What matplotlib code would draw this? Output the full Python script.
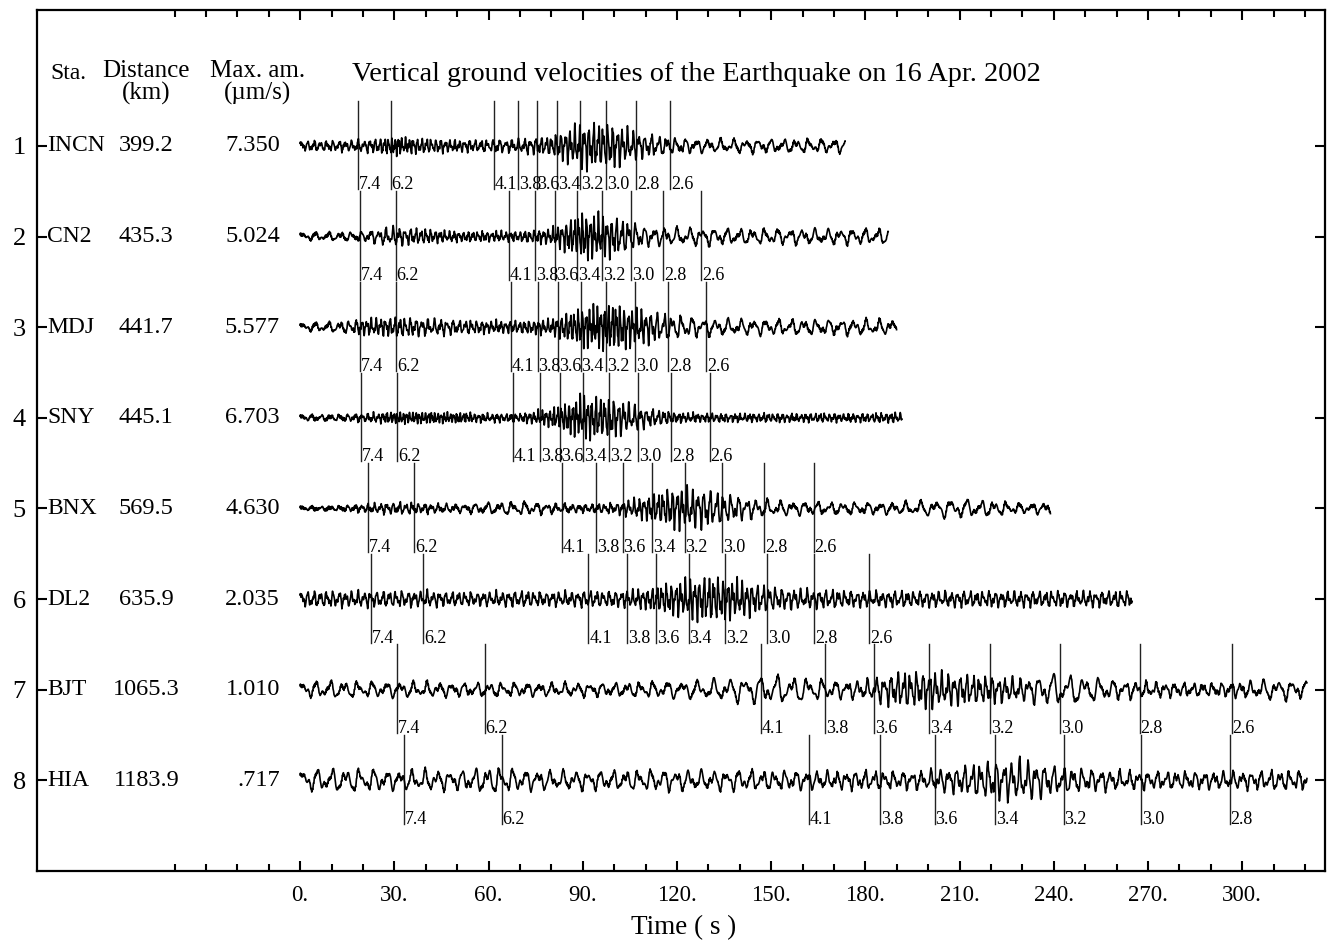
import numpy as np
import matplotlib
matplotlib.use("Agg")
import matplotlib.pyplot as plt

plt.rcParams["font.family"] = ["Liberation Serif", "DejaVu Serif"]

# station table
stations = ["INCN", "CN2", "MDJ", "SNY", "BNX", "DL2", "BJT", "HIA"]
distances = [399.2, 435.3, 441.7, 445.1, 569.5, 635.9, 1065.3, 1183.9]
max_amp = ["7.350", "5.024", "5.577", "6.703", "4.630", "2.035", "1.010", ".717"]

# record length (s) and origin-to-record-start delay (s)
trace_end = [173.6, 187.3, 190.0, 191.7, 239.0, 265.0, 320.7, 320.7]
start_delay = [35.6, 39.8, 40.6, 40.8, 55.5, 63.3, 113.1, 126.8]

# group velocities (km/s) of the marker lines
velocities = [7.4, 6.2, 4.1, 3.8, 3.6, 3.4, 3.2, 3.0, 2.8, 2.6]

# wiggle envelope (pixels of half amplitude) and dominant period (s), every 10 s
envelopes = [
    [5, 5, 6, 9, 7, 6, 6, 7, 10, 24, 22, 12, 8, 7, 7, 7, 7, 7],
    [4, 4, 5, 10, 7, 5, 5, 5, 8, 24, 20, 10, 9, 9, 8, 8, 8, 8, 8],
    [4, 5, 8, 10, 9, 7, 6, 6, 8, 20, 24, 17, 12, 9, 8, 8, 8, 8, 8, 8],
    [3, 3, 4, 6, 6, 5, 4, 4, 9, 22, 20, 10, 5, 4, 4, 4, 4, 4, 4, 5],
    [2, 2, 4, 6, 5, 4, 6, 7, 5, 4, 5, 12, 22, 20, 12, 8, 7, 6, 6, 6, 8, 10, 8, 5, 6],
    [8, 8, 8, 8, 8, 7, 7, 8, 7, 8, 8, 10, 18, 24, 19, 12, 10, 9, 8, 8, 8, 8, 8, 8,
     8, 8, 8],
    [8, 9, 8, 8, 8, 7, 7, 7, 7, 7, 7, 8, 9, 10, 13, 15, 13, 9, 10, 18, 19, 16, 14,
     12, 17, 14, 10, 8, 7, 7, 8, 11, 9],
    [11, 12, 12, 10, 11, 10, 14, 11, 10, 10, 10, 11, 11, 10, 11, 10, 10, 9, 10, 9,
     10, 14, 20, 22, 15, 12, 10, 9, 9, 9, 9, 10, 10],
]
periods = [
    [2, 2, 2, 1, 1.5, 1.5, 2, 2, 1.5, 1.5, 1.5, 2, 3, 4, 4, 4, 4, 4],
    [4, 4, 3, 2, 1.5, 1.5, 1.5, 1.5, 1.5, 1.2, 1.5, 3, 4, 4, 4, 4, 4, 4, 4],
    [4, 4, 1.5, 1.5, 2, 2, 1.5, 1.5, 1.5, 1.2, 1.2, 1.5, 3, 4, 4, 4, 4, 4, 4, 4],
    [3, 3, 2, 1, 1, 1, 1.5, 1.5, 1.2, 1.2, 1.5, 2, 1.5, 1.5, 1.5, 1.5, 1.5, 1.5,
     1.5, 1.5],
    [3, 3, 2, 2, 2, 3, 4, 4, 3, 2, 2, 1.5, 1.5, 2, 2.5, 4, 4, 4, 4, 4, 5, 5, 4, 4, 4],
    [2, 2, 2, 2, 2, 2, 2, 2, 2, 2, 2, 1.5, 1.5, 1.5, 1.5, 2, 2, 2, 2, 2, 2, 2, 2, 2,
     2, 2, 2],
    [4, 4.5, 4.5, 4.5, 4, 4, 4, 4, 4, 4, 4, 4, 5, 5, 5, 5, 5, 4, 3, 2, 2, 2, 2, 2.5,
     5, 5, 4, 3, 3, 3, 3, 5, 4],
    [4.5, 4.5, 4.5, 4, 4, 4, 4, 4, 4, 4, 4, 4, 4, 4, 4, 3.5, 3.5, 3, 3, 3, 3, 2.5,
     2.5, 2.5, 3, 3, 3, 3, 3, 3, 3, 3, 3],
]

PX = 90.4  # pixels per trace spacing

fig = plt.figure(figsize=(13.27, 9.41), dpi=100)
ax = fig.add_axes([37 / 1327, 70 / 941, 1288 / 1327, 861 / 941])

for i, name in enumerate(stations):
    row = i + 1
    t = np.arange(0, trace_end[i], 0.05)
    grid = np.arange(len(envelopes[i])) * 10.0
    env = np.interp(t, grid, envelopes[i]) / PX
    per = np.interp(t, grid, periods[i])
    phi = 2 * np.pi * np.cumsum(0.05 / per)
    wig = (0.6 * np.sin(phi) + 0.3 * np.sin(1.73 * phi + 1.0)
           + 0.22 * np.sin(2.91 * phi + 2.0))
    wig = env * wig + 0.016 * np.sin(2 * np.pi * t / 0.33) * np.cos(0.7 * t)
    ax.plot(t, row - wig, color="black", lw=1.2, zorder=3)

    # group velocity markers
    for v in velocities:
        tm = distances[i] / v - start_delay[i]
        if tm > trace_end[i]:
            continue
        ax.plot([tm, tm], [row - 0.5, row + 0.48], color="#222222", lw=1.0, zorder=2)
        ax.text(tm + 0.3, row + 0.48, f"{v:.1f}", fontsize=13, ha="left",
                va="baseline")

    ax.text(-80.5, row, name, fontsize=17, ha="left", va="center")
    ax.text(-49.0, row, f"{distances[i]:.1f}", fontsize=17.5, ha="center",
            va="center")
    ax.text(-6.4, row, max_amp[i], fontsize=17.5, ha="right", va="center")

# header
ax.text(-79.6, 0.2, "Sta.", fontsize=17, ha="left", va="center")
ax.text(-49.0, 0.17, "Distance", fontsize=18, ha="center", va="center")
ax.text(-49.0, 0.42, "(km)", fontsize=18, ha="center", va="center")
ax.text(-13.5, 0.17, "Max. am.", fontsize=18, ha="center", va="center")
ax.text(-13.5, 0.42, "(\u00b5m/s)", fontsize=18, ha="center", va="center")
ax.text(16.6, 0.21, "Vertical ground velocities of the Earthquake on 16 Apr. 2002",
        fontsize=20.3, ha="left", va="center")

ax.set_xlim(-83.8, 326.4)
ax.set_ylim(9.0, -0.5)

major = np.arange(0, 301, 30)
ax.set_xticks(major)
ax.set_xticklabels([f"{int(x)}." for x in major], fontsize=16.5)
ax.set_xticks(np.arange(-40, 321, 10), minor=True)
ax.set_yticks(np.arange(1, 9))
ax.set_yticklabels([str(k) for k in range(1, 9)], fontsize=19)
ax.tick_params(which="both", direction="in", top=True, right=True, width=1.5)
ax.tick_params(which="major", length=7)
ax.tick_params(which="minor", length=5)
ax.tick_params(axis="x", pad=10)
ax.tick_params(axis="y", pad=8)
for s in ax.spines.values():
    s.set_linewidth(1.6)

fig.text(684 / 1327, 1 - 928 / 941, "Time ( s )", fontsize=19.5, ha="center",
         va="center")

fig.savefig("out.png", dpi=100)
